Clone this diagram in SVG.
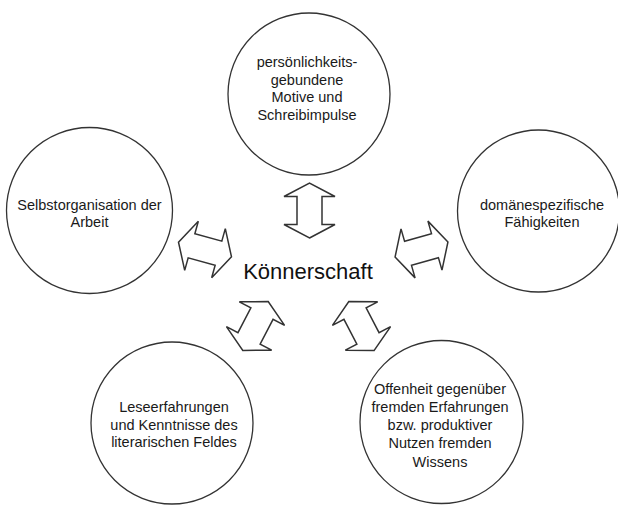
<svg xmlns="http://www.w3.org/2000/svg" width="618" height="507" viewBox="0 0 618 507">
<style>
.c{fill:#fff;stroke:#333;stroke-width:1.3}
.a{fill:#fff;stroke:#333;stroke-width:1.5;stroke-linejoin:miter}
.t{font-family:"Liberation Sans",Arial,sans-serif;font-size:14.5px;fill:#1a1a1a;text-anchor:middle}
.m{font-family:"Liberation Sans",Arial,sans-serif;font-size:22px;fill:#111;text-anchor:middle}
</style>
<defs>
<polygon id="arr" points="27.5,0 14,-25.5 14,-12.5 -14,-12.5 -14,-25.5 -27.5,0 -14,25.5 -14,12.5 14,12.5 14,25.5"/>
</defs>
<rect width="618" height="507" fill="#fff"/>
<g id="top">
<circle class="c" cx="309" cy="94" r="81"/>
<text class="t" x="307" y="67">persönlichkeits-</text>
<text class="t" x="307" y="84.5">gebundene</text>
<text class="t" x="307" y="102">Motive und</text>
<text class="t" x="307" y="119.5">Schreibimpulse</text>
</g>
<g id="left">
<circle class="c" cx="89.5" cy="210.5" r="83"/>
<text class="t" x="89.5" y="210">Selbstorganisation der</text>
<text class="t" x="89.5" y="227">Arbeit</text>
</g>
<g id="right">
<circle class="c" cx="538.5" cy="211" r="81"/>
<text class="t" x="542" y="209.5">domänespezifische</text>
<text class="t" x="542" y="227">Fähigkeiten</text>
</g>
<g id="bottomleft">
<circle class="c" cx="172" cy="423" r="81"/>
<text class="t" x="174" y="412">Leseerfahrungen</text>
<text class="t" x="174" y="429.5">und Kenntnisse des</text>
<text class="t" x="174" y="447">literarischen Feldes</text>
</g>
<g id="bottomright">
<circle class="c" cx="441.5" cy="422" r="81.5"/>
<text class="t" x="440" y="393.5">Offenheit gegenüber</text>
<text class="t" x="440" y="411.7">fremden Erfahrungen</text>
<text class="t" x="440" y="430">bzw. produktiver</text>
<text class="t" x="440" y="448.2">Nutzen fremden</text>
<text class="t" x="440" y="466.5">Wissens</text>
</g>
<g id="center">
<text class="m" x="308" y="279">Könnerschaft</text>
</g>
<g id="connectors">
<use href="#arr" class="a" transform="translate(309.5,210.5) rotate(90)"/>
<use href="#arr" class="a" transform="translate(205,249.5) rotate(15.5)"/>
<use href="#arr" class="a" transform="translate(421.5,249.5) rotate(-16)"/>
<use href="#arr" class="a" transform="translate(255.5,326) rotate(-62.5)"/>
<use href="#arr" class="a" transform="translate(361.5,326) rotate(62.5)"/>
</g>
</svg>
